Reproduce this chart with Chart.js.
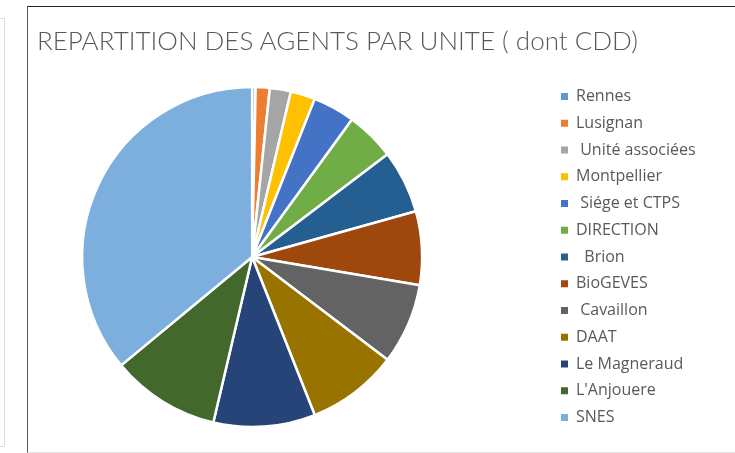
<!DOCTYPE html>
<html>
<head>
<meta charset="utf-8">
<script src="https://cdn.jsdelivr.net/npm/chart.js@4.4.1/dist/chart.umd.min.js"></script>
<style>
    html, body { margin: 0; padding: 0; background: #fff; overflow: hidden; }
    body { width: 735px; height: 453px; position: relative; }
    /* bord de la fenêtre voisine à gauche */
    #voisin { position: absolute; left: -20px; top: 18px; width: 23px; height: 427px; border: 1px solid #dcdcdc; }
    #cadre { position: absolute; left: 27px; top: 6px; width: 707px; height: 445px;
             border-top: 1px solid #262626; border-left: 1px solid #595959; border-bottom: 1px solid #e3e3e3; }
    #titre { position: absolute; left: 9px; top: 18px; margin: 0; font-family: Lato, sans-serif; font-weight: 300;
             font-size: 26px; line-height: 1.2; color: #595959; white-space: nowrap; }
    /* la zone déborde à gauche pour que le camembert ne soit pas centré entre le bord et la légende */
    #zone { position: absolute; left: -74px; top: 0; width: 781px; height: 445px; }
</style>
</head>
<body>
<div id="voisin"></div>
<div id="cadre">
    <div id="zone"><canvas id="camembert"></canvas></div>
    <h1 id="titre">REPARTITION DES AGENTS PAR UNITE ( dont CDD)</h1>
</div>

<script>
// Données (nombre d'agents par unité)
const unites = ['Rennes', 'Lusignan', ' Unité associées', 'Montpellier', ' Siége et CTPS', 'DIRECTION',
                '  Brion', 'BioGEVES', ' Cavaillon', 'DAAT', 'Le Magneraud', "L'Anjouere", 'SNES'];
const agents = [1, 4, 6, 7, 12, 14, 18, 21, 23, 26, 29, 31, 108];

// palette Office par défaut
const couleurs = ['#5B9BD5', '#ED7D31', '#A5A5A5', '#FFC000', '#4472C4', '#70AD47',
                  '#255E91', '#9E480E', '#636363', '#997300', '#264478', '#43682B', '#7CAFDD'];

document.addEventListener('DOMContentLoaded', function() {
    const canvas = document.getElementById('camembert');
    const ctx = canvas.getContext('2d');

    const taille = 16, ecart = 10.75, carre = 7;
    const largeurZone = 781;
    const bordLegende = 596.25;   // bord gauche voulu de la légende (px canvas)

    // largeur de la légende telle que Chart.js la calcule (+10 ajouté par Chart.js en vertical)
    ctx.font = taille + "px 'Open Sans'";
    const texteMax = Math.max(...unites.map(u => ctx.measureText(u).width));
    const largeurLegende = ecart + carre + taille / 2 + texteMax + 10;
    const margeDroite = largeurZone - bordLegende - largeurLegende;

    new Chart(ctx, {
        type: 'pie',
        data: {
            labels: unites,
            datasets: [{
                data: agents,
                backgroundColor: couleurs,
                borderColor: '#ffffff',
                borderWidth: 2.5,
                radius: 170
            }]
        },
        options: {
            responsive: true,
            maintainAspectRatio: false,
            animation: false,
            events: [],
            layout: {
                padding: { left: 0, right: margeDroite, top: 60, bottom: 5 }
            },
            plugins: {
                title: { display: false },
                tooltip: { enabled: false },
                legend: {
                    position: 'right',
                    align: 'center',
                    labels: {
                        boxWidth: carre,
                        boxHeight: carre,
                        padding: ecart,
                        color: '#595959',
                        font: { family: "'Open Sans'", size: taille },
                        generateLabels: (chart) => {
                            const items = Chart.overrides.pie.plugins.legend.labels.generateLabels(chart);
                            items.forEach(it => { it.lineWidth = 0; it.strokeStyle = 'rgba(0,0,0,0)'; });
                            return items;
                        }
                    }
                }
            }
        }
    });
});
</script>
</body>
</html>
